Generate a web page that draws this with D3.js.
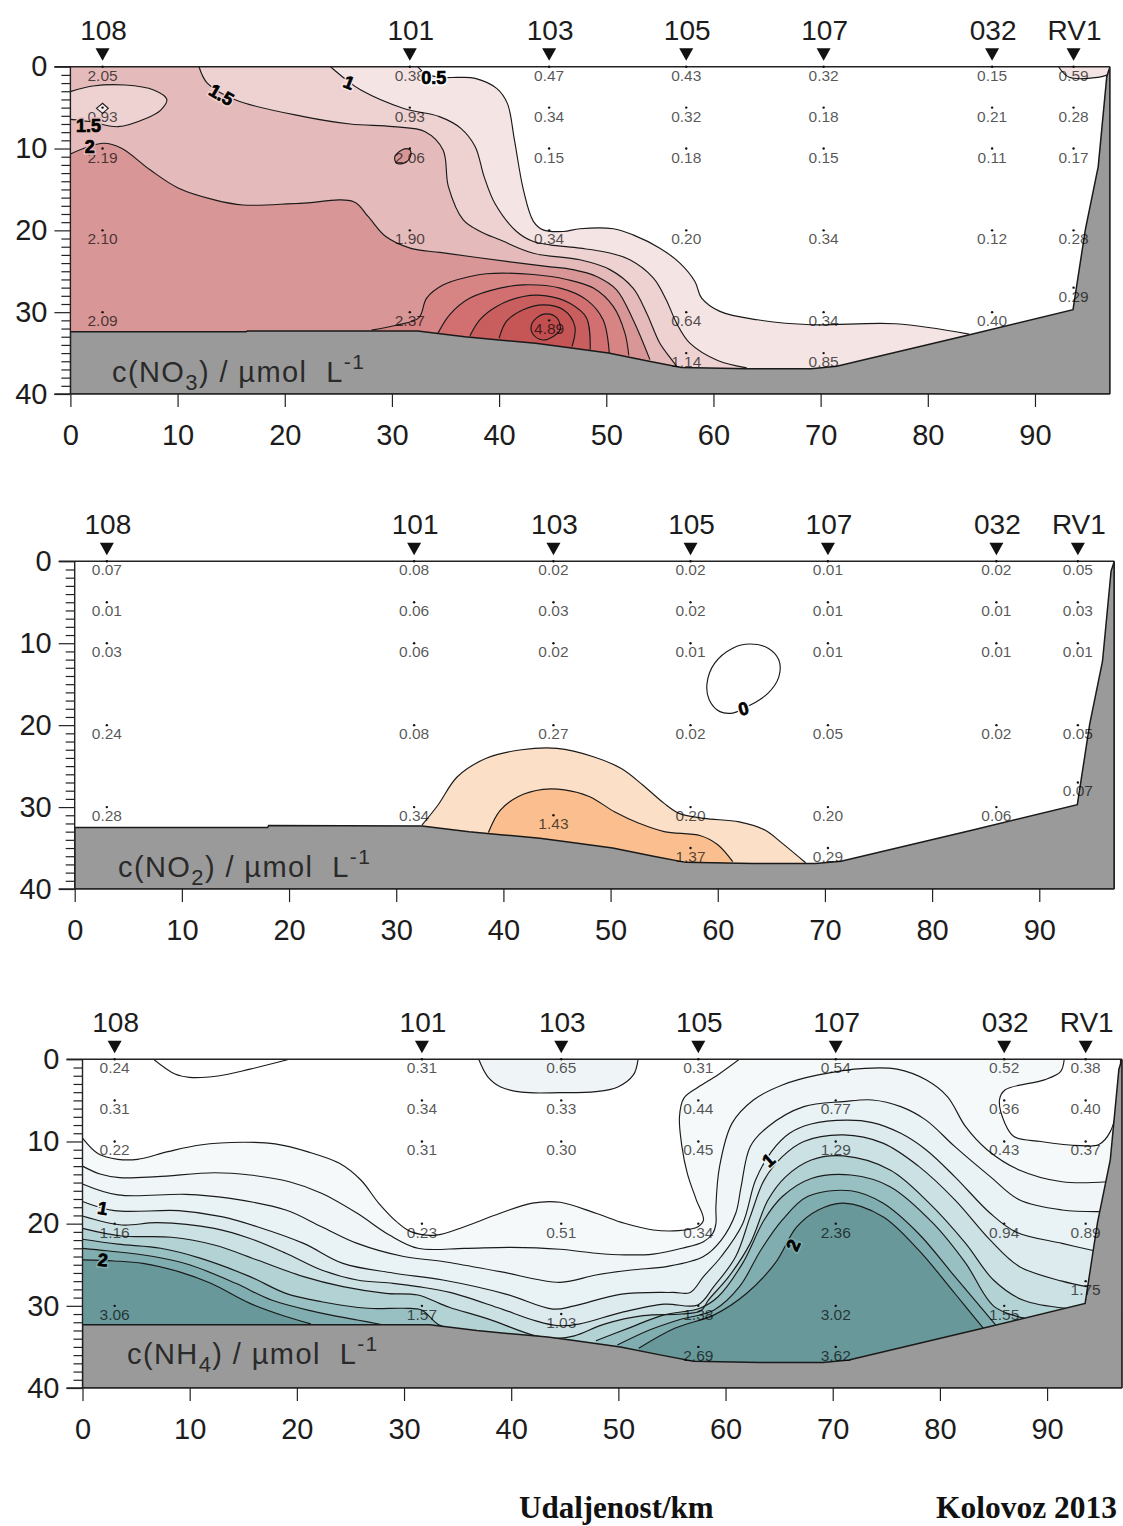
<!DOCTYPE html>
<html><head><meta charset="utf-8">
<script src="https://cdn.jsdelivr.net/npm/d3@7/dist/d3.min.js"></script>
<style>html,body{margin:0;padding:0;background:#fff}svg{display:block}</style>
</head><body><svg id="c" width="1123" height="1526" font-family="'Liberation Sans',Arial,sans-serif"></svg>
<script>
// ---------- shared data ----------
const stations = ["108","101","103","105","107","032","RV1"];
const stationKm = [3,31.67,44.67,57.46,70.28,86,93.6];
const sampleDepths = [[0,5,10,20,30],[0,5,10,20,30],[0,5,10,20,31],[0,5,10,20,30,35],[0,5,10,20,30,35],[0,5,10,20,30],[0,5,10,20,27]];
const xTickValues = [0,10,20,30,40,50,60,70,80,90];
const yTickValues = [0,10,20,30,40];
const yMinorValues = d3.range(0,41).filter(v=>v%10!==0);
const bathymetry = [[32.4,32.3],[36.8,33],[40,33.4],[43.4,33.8],[45.7,34.2],[50.2,35],[54,36],[57,36.75],[63.25,36.9],[69.1,36.9],[71.5,36.6],[83.8,32.8],[93.55,29.7],[94.7,19.9],[95.9,12.2],[96.7,1.2],[97,0]];
const no3BedStart = [[0,32.4],[16.4,32.4],[16.5,32.3]];
const no2BedStart = [[0,32.5],[18,32.5],[18.1,32.25]];
const nh4BedStart = [[0,32.3]];

// ---------- NO3 ----------
const no3Values = [["2.05","0.93","2.19","2.10","2.09"],["0.38","0.93","2.06","1.90","2.37"],["0.47","0.34","0.15","0.34","4.89"],["0.43","0.32","0.18","0.20","0.64","1.14"],["0.32","0.18","0.15","0.34","0.34","0.85"],["0.15","0.21","0.11","0.12","0.40"],["0.59","0.28","0.17","0.28","0.29"]];
const no3L05 = [[32.4,0],[33.2,0.9],[34.5,1.3],[36.27,1.3],[37.77,1.42],[39.77,2.65],[40.77,4.48],[41.43,8.95],[42.27,15.06],[43.2,18.9],[44.1,19.94],[46,20.14],[47.54,19.8],[50.65,19.8],[52.5,20.55],[55,22.18],[56.87,24],[58.27,26.25],[58.9,28.28],[60.6,29.9],[64.1,30.93],[69.1,31.54],[77,31.42],[83.85,32.68]];
const no3L05Corner = [[92.2,0],[93.2,1.3],[95.9,1.3],[96.8,1]];
const no3L1 = [[24.27,0],[25.77,1.63],[27.1,2.85],[31.1,5.1],[34.43,6.1],[36.43,7.53],[37.77,9.77],[38.6,13.43],[39.6,16.69],[41.63,20.14],[43.2,21.37],[44.74,21.77],[47.54,22.18],[50,22.67],[52.2,23.6],[54.4,25.84],[55.6,28.5],[56.56,31.34],[57.8,33.78],[60.4,35.9],[63.1,36.8]];
const no3L15 = [[12,0],[12.77,2],[15.43,4.07],[21.77,6.1],[26.1,7],[30.1,7.33],[33.1,7.94],[34.77,10.17],[35.27,14.65],[36.66,18.72],[38.2,20.1],[40.08,21.16],[43.2,22.8],[47.54,23.6],[50.34,24.8],[52.5,27.06],[53.76,30.1],[55,33.8],[56.1,35.8],[56.55,36.6]];
const no3Pocket = [[0,3.05],[2.1,2.36],[5.1,2.24],[7.77,2.85],[9,4],[8.43,5.3],[7.1,6.3],[4.43,7.33],[1.77,6.7],[0,6.43]];
const no3L2 = [[0,10.66],[3.1,9.36],[4.77,9.97],[7.43,12.6],[10.1,14.86],[13.43,16.28],[16.1,16.9],[21.43,16.7],[26.43,16.5],[27.77,18.3],[29.43,20.76],[31.77,22.2],[34.48,22.7],[40.7,23.8],[44.4,24.4],[46.9,24.8],[49.1,25.64],[50.96,27.27],[52.5,30.93],[54.07,35.8]];
const no3L25 = [[28.1,32.2],[30.4,31.6],[32.5,30.7],[33.24,28.28],[34.8,26.66],[37.28,25.64],[38.8,25.3],[43.2,25.4],[46.3,26],[48.8,27.06],[50.65,29.3],[51.74,32.56],[52.1,35.3]];
const no3L3 = [[34.3,32.56],[35.4,30.3],[37.28,28.28],[40.08,27.06],[42.25,26.66],[45.7,27.06],[48.16,28.5],[49.7,30.93],[50.28,35]];
const no3L35 = [[37.28,32.88],[38.2,30.93],[39.77,29.3],[42.25,28.08],[44.4,28],[46.6,28.9],[48.16,30.7],[48.5,34.6]];
const no3L4 = [[40,33.17],[40.7,31.1],[42.25,29.7],[44.1,29.1],[46,29.7],[47.07,31.74],[46.8,34.2]];
const no3L45 = [[42.99,31.74],[43.5,30.7],[44.4,30.2],[45.4,30.7],[45.7,32.15],[45.05,32.96],[44.1,33.4],[43.2,32.76]];
const no3Small = [[30.27,11],[30.93,10.17],[31.6,10.1],[31.77,10.8],[31.27,11.7],[30.43,11.8]];
const no3Diamond = [[2.43,5.09],[3,4.48],[3.53,5.09],[3,5.7]];
const no3Labels = [{t:"0.5",km:33.9,d:1.3,r:0,h:"#ffffff"},{t:"1",km:26,d:1.9,r:22,h:"#f5e4e4"},{t:"1.5",km:14.1,d:3.4,r:30,h:"#eed2d2"},{t:"1.5",km:1.7,d:7.2,r:0,h:"#e5baba"},{t:"2",km:1.8,d:9.8,r:0,h:"#e5baba"}];

// ---------- NO2 ----------
const no2Values = [["0.07","0.01","0.03","0.24","0.28"],["0.08","0.06","0.06","0.08","0.34"],["0.02","0.03","0.02","0.27","1.43"],["0.02","0.02","0.01","0.02","0.20","1.37"],["0.01","0.01","0.01","0.05","0.20","0.29"],["0.02","0.01","0.01","0.02","0.06"],["0.05","0.03","0.01","0.05","0.07"]];
const no2L0 = [[62.4,17.95],[63.4,17.3],[64.7,16.1],[65.7,14.1],[65.7,12.05],[64.7,10.6],[63,10.1],[61.4,10.6],[59.7,12.45],[59,14.9],[59.2,16.9],[60.2,18.35],[61.5,18.5]];
const no2L05 = [[32.4,32.2],[33.9,29.75],[35.7,26.3],[38.4,24.05],[41.7,23],[45,22.83],[48.4,23.85],[51,25.3],[53,27.3],[55,29.55],[56.4,30.77],[58.7,31.38],[62,31.8],[64.4,32.8],[66,34.4],[68.2,36.8]];
const no2L1 = [[38.6,33.1],[39.7,30.4],[41.4,28.7],[43.7,27.84],[45.7,27.9],[48,28.7],[50.4,30.6],[52.7,32],[55,33],[58.4,33.5],[60,34.6],[61.4,36.67]];
const no2Labels = [{t:"0",km:62.4,d:17.95,r:-15,h:"#ffffff"}];

// ---------- NH4 ----------
const nh4Values = [["0.24","0.31","0.22","1.16","3.06"],["0.31","0.34","0.31","0.23","1.57"],["0.65","0.33","0.30","0.51","1.03"],["0.31","0.44","0.45","0.34","1.38","2.69"],["0.54","0.77","1.29","2.36","3.02","3.62"],["0.52","0.36","0.43","0.94","1.55"],["0.38","0.40","0.37","0.89","1.75"]];
const nh4Trough = [[6.63,0],[8.63,1.8],[9.97,2.2],[12.63,2.03],[15.63,1.2],[19.3,0]];
const nh4Lobe = [[36.97,0],[37.8,2.1],[38.97,3.33],[40.97,4],[44.57,4.06],[47.89,3.94],[49.9,3.4],[51.4,1.9],[51.84,0]];
const nh4Pocket = [[91.6,0],[91.26,1.5],[89.75,2.5],[86.07,3.73],[85.56,4.95],[86.07,7.8],[86.9,9.4],[89.4,10],[93.1,10.5],[94.8,10.4],[95.9,8.8],[96.7,4.5],[96.85,0]];
const nh4A = [[0,9.6],[1.47,11.5],[3.3,12.17],[5.13,12.17],[7.97,11.24],[10.97,10.43],[14.97,10.1],[17.97,10.3],[20.97,11.24],[23.97,12.66],[25.97,14.69],[27.63,17.5],[29.3,19.76],[30.63,20.97],[32.97,21.4],[35.63,20.37],[38.97,18.74],[41.97,17.5],[44.57,17.4],[47.9,18.74],[50.57,19.96],[53.25,20.77],[55.6,20.85],[57.43,20.37],[57.94,19.55],[57.27,17.1],[56.43,13.87],[55.93,10.63],[55.7,7],[56.1,4.75],[57.43,3.4],[59.27,1.9],[61.28,0]];
const nh4B = [[0,13],[1.63,13.96],[3.47,14.4],[6.97,14.28],[12.3,13.8],[15.63,14.08],[19.3,14.9],[22.3,16.3],[25.63,18.74],[28.63,21.38],[31.3,23],[35.63,23],[39.97,22.88],[44.57,23.12],[47.9,23.6],[50.57,23.8],[53.25,23.7],[55.93,23],[57.94,22.2],[58.8,21.2],[59.1,20],[59.1,17.93],[59.44,13.06],[60.6,7.8],[62.6,4.95],[65.3,3.12],[68.65,1.9],[73,1.1],[76,1.2],[78.7,2.5],[80.7,4.54],[82.4,8.2],[84.4,11],[87.4,13.47],[91.4,14.9],[95.6,14.9]];
const nh4C = [[0,15.17],[3.3,16.5],[9.63,16.43],[13.63,16.9],[18.97,18.34],[22.3,20.37],[25.63,22.4],[29.97,24],[33.63,24.6],[38.97,25.84],[44.57,27.14],[47.9,26.25],[51.2,25.64],[54.6,25.2],[57.94,24],[59.6,22],[60.95,18.74],[61.45,15.5],[62.3,10.63],[63.96,8.2],[67.3,5.76],[71,5.15],[73.7,4.95],[76.35,5.76],[78.7,7.4],[81.4,10.63],[84.7,14.28],[87.4,17.1],[91.4,18.34],[95.1,18.54]];
const nh4D = [[0,17.3],[2.97,18.42],[8.97,18.42],[12.97,19.15],[16.3,20.37],[20.63,22.4],[24.3,24.83],[28.97,26],[33.63,26.86],[39.5,28.57],[43.9,30.4],[45.9,30],[50.3,28.57],[55.1,28.37],[56.7,28.37],[57.94,26.45],[59.6,24],[61.6,20],[62.8,14.7],[64.3,11.2],[65.97,9],[67.98,7.87],[71.3,7.4],[73.7,7.7],[76.35,9],[78.7,11],[81.4,14.3],[84.7,18.74],[87.07,21],[91.4,22.4],[94.4,23.3]];
const nh4E = [[0,19.07],[3.63,20.16],[6.97,19.88],[12.3,20.57],[15.63,21.8],[18.97,23.6],[22.3,25.64],[25.63,26.86],[28.97,27.26],[31.3,27.67],[34.28,28.37],[38.7,30.2],[42.3,31.83],[44.3,32.4],[46.3,32.23],[50.3,30.8],[54.3,29.8],[57.4,29.9],[58.9,27.67],[60.95,24],[62.3,19.15],[63.6,14.7],[65.3,11.85],[67.3,10],[71,9.2],[74.68,10.2],[78,13],[81.4,17.1],[84.7,22],[87.4,25.2],[91.4,27],[93.8,27.7]];
const nh4F = [[0,20.57],[3.63,21.5],[8.3,21.66],[12.3,22.6],[16.3,24.42],[20.63,26.45],[24.3,27.67],[28.3,28.48],[31.3,28.68],[33.3,29.7],[34.28,30.2],[37.9,31.62],[42.3,33.66],[44.3,33.94],[45.9,33.66],[48.7,32.23],[52.3,31.2],[55.9,31],[57.7,30.6],[58.4,29.3],[60.3,26.45],[62.3,22.4],[63.97,17.1],[65.6,14.3],[68,12.25],[71,11.76],[75.35,13.47],[79,17.5],[82.4,22.4],[85,26.86],[87.74,29.3],[91.75,30.3]];
const nh4GLeft = [[0,21.9],[3.3,22.5],[7.3,23],[10.97,24.2],[15.63,26.45],[18.97,28.48],[22.3,29.5],[26.63,30.3],[29.97,30.3],[31.63,30.5],[33.3,32.33],[35.63,33]];
const nh4GRight = [[47.9,34.24],[50.9,32.74],[54.25,31.1],[57.6,30.3],[59.3,28.9],[61.6,24.8],[63.6,19.55],[65.3,16.7],[68,14.5],[71.7,14.08],[75.35,15.5],[79.4,20],[82.4,24.8],[85.07,30.1],[87.9,31.5]];
const nh4HLeft = [[0,23],[2.3,23.3],[6.63,24],[9.97,25],[14.3,27.26],[17.63,29.3],[21.63,30.7],[25.63,31.72],[28,32.3]];
const nh4HRight = [[49.9,34.77],[52.9,32.94],[55.6,31.72],[58.94,30.5],[61.3,27.67],[63.3,23.2],[65.3,19.55],[67.65,16.7],[71.7,16],[74.68,17.5],[78,21.2],[81.4,26.45],[85.2,32.33]];
const nh4ILeft = [[0,24.4],[2.97,24.54],[5.63,24.83],[8.97,25.84],[11.97,27.26],[15.63,29.7],[18.97,31.3],[21.3,32.2]];
const nh4IRight = [[51.9,35.17],[55.26,32.74],[58.94,31.1],[61.95,28.5],[64.63,24.8],[66.64,20.4],[68.65,18.34],[71,17.5],[74.68,19.15],[78,23.2],[81.4,28.5],[84.06,32.74]];
const nh4Labels = [{t:"1",km:1.9,d:18.1,r:10,h:"#e9f2f4"},{t:"2",km:1.9,d:24.4,r:5,h:"#80aeb0"},{t:"1",km:64,d:12.25,r:-42,h:"#e9f2f4"},{t:"2",km:66.3,d:22.6,r:-65,h:"#80aeb0"}];

// ---------- panels ----------
const far = 41, near = -1, edge = 98;
const below = (p)=>{
  const a=p[0], b=p[p.length-1];
  return [[b[0],far],[near,far],[near,a[1]===0?near:a[1]]].concat(a[1]===0?[[a[0],near]]:[]);
};
const straightDown = (p)=>[[p[p.length-1][0],far],[p[0][0],far]];
const belowRight = (p)=>{const a=p[0],b=p[p.length-1];return [[edge,b[1]],[edge,far],[near,far],[near,a[1]]];};

const panels = [
 {x0:70.4,y0:66.7,y40:394,bedStart:no3BedStart,values:no3Values,labels:no3Labels,sub:"3",chem:"NO",titleX:112,titleY:382,
  fills:[
   {c:"#f5e4e4",p:no3L05,z:below(no3L05)},
   {c:"#f5e4e4",p:no3L05Corner,z:[[98,1],[98,-1],[92.2,-1]]},
   {c:"#eed2d2",p:no3L1,z:below(no3L1)},
   {c:"#e5baba",p:no3L15,z:below(no3L15)},
   {c:"#eed2d2",p:no3Pocket,z:[[-1,6.43],[-1,3.05]]},
   {c:"#f7ecec",p:no3Diamond,z:[],straight:true},
   {c:"#d99697",p:no3L2,z:below(no3L2)},
   {c:"#d99697",p:no3Small,z:[]},
   {c:"#d78485",p:no3L25,z:straightDown(no3L25)},
   {c:"#d27071",p:no3L3,z:straightDown(no3L3)},
   {c:"#c95e5f",p:no3L35,z:straightDown(no3L35)},
   {c:"#c65556",p:no3L4,z:straightDown(no3L4)},
   {c:"#c24e50",p:no3L45,z:[]}
  ],lines:[{p:no3L45,closed:true},{p:no3Small,closed:true},{p:no3Diamond,closed:true,straight:true}]},
 {x0:74.7,y0:561.3,y40:889,bedStart:no2BedStart,values:no2Values,labels:no2Labels,sub:"2",chem:"NO",titleX:118,titleY:877,
  fills:[
   {c:"#fbdfc6",p:no2L05,z:straightDown(no2L05)},
   {c:"#fbbf8f",p:no2L1,z:straightDown(no2L1)}
  ],lines:[{p:no2L0,closed:true}]},
 {x0:82.5,y0:1059.3,y40:1388,bedStart:nh4BedStart,values:nh4Values,labels:nh4Labels,sub:"4",chem:"NH",titleX:127,titleY:1364,
  fills:[
   {c:"#f5f9fa",p:nh4A,z:[[61.28,-1],[98,-1],[98,41],[-1,41],[-1,9.6]]},
   {c:"#eff5f6",p:nh4Lobe,z:[[51.84,-1],[36.97,-1]]},
   {c:"#ffffff",p:nh4Pocket,z:[[96.85,-1],[91.6,-1]]},
   {c:"#f0f6f7",p:nh4B,z:belowRight(nh4B)},
   {c:"#e9f2f4",p:nh4C,z:belowRight(nh4C)},
   {c:"#deebee",p:nh4D,z:belowRight(nh4D)},
   {c:"#cbe1e3",p:nh4E,z:belowRight(nh4E)},
   {c:"#b3d2d4",p:nh4F,z:belowRight(nh4F)},
   {c:"#98c0c2",p:nh4GLeft,z:[[35.63,41],[-1,41],[-1,21.9]]},
   {c:"#98c0c2",p:nh4GRight,z:straightDown(nh4GRight)},
   {c:"#80aeb0",p:nh4HLeft,z:[[28,41],[-1,41],[-1,23]]},
   {c:"#80aeb0",p:nh4HRight,z:straightDown(nh4HRight)},
   {c:"#69989a",p:nh4ILeft,z:[[21.3,41],[-1,41],[-1,24.4]]},
   {c:"#69989a",p:nh4IRight,z:straightDown(nh4IRight)}
  ],lines:[{p:nh4Trough}]}
];

// ---------- drawing ----------
const svg = d3.select("#c");
const plotW = 1039.6;
const smooth = d3.curveCatmullRom.alpha(0.5);

panels.forEach((P,pi)=>{
  const x = d3.scaleLinear().domain([0,97]).range([P.x0,P.x0+plotW]);
  const y = d3.scaleLinear().domain([0,40]).range([P.y0,P.y40]);
  const g = svg.append("g");
  const clipId = "clip"+pi;
  svg.append("clipPath").attr("id",clipId).append("rect")
    .attr("x",x(0)).attr("y",y(0)).attr("width",plotW).attr("height",y(40)-y(0));
  const plot = g.append("g").attr("clip-path",`url(#${clipId})`);
  const lineS = d3.line().x(d=>x(d[0])).y(d=>y(d[1])).curve(smooth);
  const lineC = d3.line().x(d=>x(d[0])).y(d=>y(d[1])).curve(d3.curveCatmullRomClosed.alpha(0.5));
  const lineL = d3.line().x(d=>x(d[0])).y(d=>y(d[1]));

  P.fills.forEach(f=>{
    let d;
    if(f.straight) d = lineL(f.p)+"Z";
    else if(!f.z.length) d = lineC(f.p);
    else d = lineS(f.p)+f.z.map(q=>`L${x(q[0])},${y(q[1])}`).join("")+"Z";
    plot.append("path").attr("d",d).attr("fill",f.c).attr("stroke","none");
  });
  P.fills.forEach(f=>{
    if(f.straight||!f.z.length) return;
    plot.append("path").attr("d",lineS(f.p)).attr("fill","none").attr("stroke","#1a1a1a").attr("stroke-width",1.15);
  });
  P.lines.forEach(l=>{
    const d = l.straight? lineL(l.p)+"Z" : (l.closed? lineC(l.p): lineS(l.p));
    plot.append("path").attr("d",d).attr("fill","none").attr("stroke","#1a1a1a").attr("stroke-width",1.15);
  });

  // seabed
  const bed = P.bedStart.concat(bathymetry,[[97,40],[0,40]]);
  plot.append("path").attr("d",lineL(bed)+"Z").attr("fill","#9a9a9a").attr("stroke","#1a1a1a").attr("stroke-width",1.5);

  // frame
  const frameLine = (x1,y1,x2,y2)=>g.append("line").attr("x1",x1).attr("y1",y1).attr("x2",x2).attr("y2",y2).attr("stroke","#222").attr("stroke-width",1.4);
  frameLine(x(0)-16,y(0),x(97),y(0));
  frameLine(x(0)-16,y(40),x(97),y(40));
  frameLine(x(0),y(0),x(0),y(40));
  frameLine(x(97),y(0),x(97),y(40));

  // axes
  const axB = g.append("g").attr("transform",`translate(0,${y(40)})`)
    .call(d3.axisBottom(x).tickValues(xTickValues).tickSize(13).tickPadding(17).tickFormat(d3.format("d")));
  const axL = g.append("g").attr("transform",`translate(${x(0)},0)`)
    .call(d3.axisLeft(y).tickValues(yTickValues).tickSize(16).tickPadding(7).tickFormat(d3.format("d")));
  const axM = g.append("g").attr("transform",`translate(${x(0)},0)`)
    .call(d3.axisLeft(y).tickValues(yMinorValues).tickSize(9).tickFormat(""));
  [axB,axL,axM].forEach(a=>{
    a.select(".domain").remove();
    a.selectAll("line").attr("stroke","#222").attr("stroke-width",1.2);
    a.selectAll("text").attr("font-size",29).attr("fill","#1c1c1c").attr("font-family","'Liberation Sans',Arial,sans-serif");
  });

  // stations
  stations.forEach((s,i)=>{
    const sx = x(stationKm[i]);
    g.append("text").attr("x",sx+1).attr("y",y(0)-27).attr("text-anchor","middle").attr("font-size",28).attr("fill","#1c1c1c").text(s);
    g.append("path").attr("transform",`translate(${sx},${y(0)})`).attr("d",d3.line()([[-7,-18.5],[7,-18.5],[0,-6]])+"Z").attr("fill","#111");
  });

  // samples
  P.values.forEach((col,i)=>{
    col.forEach((v,j)=>{
      const sx = x(stationKm[i]), sy = y(sampleDepths[i][j]);
      g.append("circle").attr("cx",sx).attr("cy",sy).attr("r",1.2).attr("fill","#111");
      g.append("text").attr("x",sx).attr("y",sy+14).attr("text-anchor","middle").attr("font-size",15.5)
        .attr("fill","#000").attr("fill-opacity",0.68).text(v);
    });
  });

  // contour labels
  P.labels.forEach(l=>{
    const lx=x(l.km), ly=y(l.d);
    g.append("text").attr("transform",`translate(${lx},${ly}) rotate(${l.r})`).attr("text-anchor","middle").attr("dy","0.36em")
      .attr("font-size",18).attr("font-weight","bold").attr("fill",l.h).attr("stroke",l.h).attr("stroke-width",3.5).text(l.t);
    g.append("text").attr("transform",`translate(${lx},${ly}) rotate(${l.r})`).attr("text-anchor","middle").attr("dy","0.36em")
      .attr("font-size",18).attr("font-weight","bold").attr("fill","#000").attr("stroke","#000").attr("stroke-width",0.7).text(l.t);
  });

  // title in seabed
  const t = g.append("text").attr("x",P.titleX).attr("y",P.titleY).attr("font-size",29).attr("letter-spacing",1.4).attr("fill","#2a2a2a");
  t.append("tspan").text("c("+P.chem);
  t.append("tspan").attr("dy",8).attr("font-size",22).text(P.sub);
  t.append("tspan").attr("dy",-8).text(") / µmol\u00a0\u00a0L");
  t.append("tspan").attr("dy",-13).attr("font-size",21).text("-1");
});

const serif = "'Liberation Serif',serif";
svg.append("text").attr("x",519).attr("y",1518).attr("font-size",31).attr("font-weight","bold").attr("font-family",serif).attr("fill","#111").text("Udaljenost/km");
svg.append("text").attr("x",936).attr("y",1518).attr("font-size",31.5).attr("font-weight","bold").attr("font-family",serif).attr("fill","#111").text("Kolovoz 2013");
</script></body></html>
